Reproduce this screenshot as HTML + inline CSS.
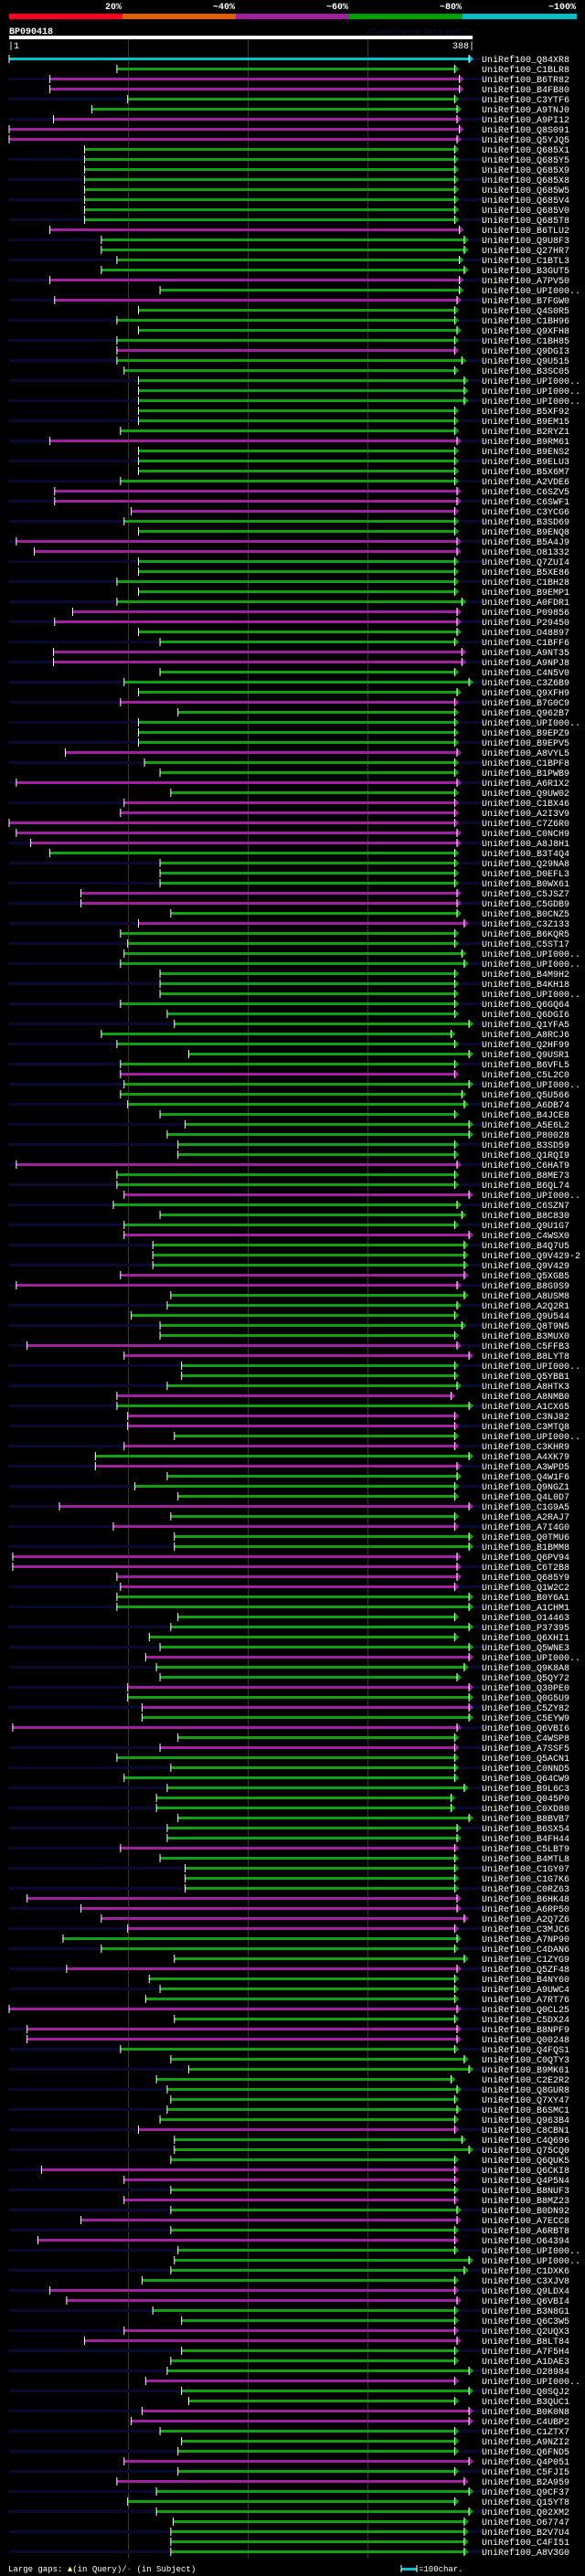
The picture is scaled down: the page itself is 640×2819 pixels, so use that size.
<!DOCTYPE html>
<html><head><meta charset="utf-8">
<style>
html,body{margin:0;padding:0;background:#000;}
svg{display:block;}
text{font-family:"Liberation Mono",monospace;}
</style></head>
<body>
<svg id="chart" width="640" height="2819" viewBox="0 0 640 2819" xmlns="http://www.w3.org/2000/svg">
<rect x="0" y="0" width="640" height="2819" fill="#000"/>
<g font-family="Liberation Mono, monospace" font-weight="bold" font-size="10" fill="#fff" text-anchor="end">
<text x="133" y="10">20%</text>
<text x="257" y="10">~40%</text>
<text x="381" y="10">~60%</text>
<text x="505" y="10">~80%</text>
<text x="630" y="10">~100%</text>
</g>
<rect x="10" y="15" width="124" height="6" fill="#ff0020"/>
<rect x="134" y="15" width="124" height="6" fill="#e06000"/>
<rect x="258" y="15" width="124" height="6" fill="#a020a0"/>
<rect x="382" y="15" width="124" height="6" fill="#00a000"/>
<rect x="506" y="15" width="125" height="6" fill="#00c0c8"/>
<text x="10" y="37" font-size="10" font-weight="bold" fill="#fff">BP090418</text>
<text x="402" y="37" font-size="8" fill="#101040">AlignView.pm Beta rel.7</text>
<rect x="10" y="39" width="507" height="4" fill="#fff"/>
<text x="9" y="53" font-size="10" fill="#fff">|1</text>
<text x="519" y="53" font-size="10" fill="#fff" text-anchor="end">388|</text>
<g id="grid"></g>
<g id="rows"></g>
<text x="9" y="2814" font-size="9" fill="#fff">Large gaps: <tspan fill="#ffff80">▲</tspan>(in Query)/<tspan fill="#00c0c8">-</tspan> (in Subject)</text>
<rect x="439" y="2810" width="17" height="3" fill="#00c0c8"/>
<line x1="439" y1="2807" x2="439" y2="2815" stroke="#fff" stroke-width="1"/>
<line x1="456" y1="2807" x2="456" y2="2815" stroke="#fff" stroke-width="1"/>
<text x="458" y="2814" font-size="9" fill="#fff">=100char.</text>
</svg>
<script>
const queryLength = 388;
const gridTicks = [100, 200, 300];
const hitNames = ["Q84XR8","C1BLR8","B6TR82","B4FB80","C3YTF6","A9TNJ0","A9PI12","Q8S091","Q5YJQ5","Q685X1","Q685Y5","Q685X9","Q685X8","Q685W5","Q685V4","Q685V0","Q685T8","B6TLU2","Q9U8F3","Q27HR7","C1BTL3","B3GUT5","A7PV50","UPI000..","B7FGW0",
"Q4S0R5","C1BH96","Q9XFH8","C1BH85","Q9DGI3","Q9U515","B3SC05","UPI000..","UPI000..","UPI000..","B5XF92","B9EM15","B2RYZ1","B9RM61","B9ENS2","B9ELU3","B5X6M7","A2VDE6","C6SZV5","C6SWF1","C3YCG6","B3SD69","B9ENQ8","B5A4J9","O81332",
"Q7ZUI4","B5XE86","C1BH28","B9EMP1","A0FDR1","P09856","P29450","O48897","C1BFF6","A9NT35","A9NPJ8","C4N5V0","C3Z6B9","Q9XFH9","B7G0C9","Q962B7","UPI000..","B9EPZ9","B9EPV5","A8VYL5","C1BPF8","B1PWB9","A6R1X2","Q9UW02","C1BX46",
"A2I3V9","C7Z6R0","C0NCH9","A8J8H1","B3T4Q4","Q29NA8","D0EFL3","B0WX61","C5JSZ7","C5GDB9","B0CNZ5","C3Z133","B6KQR5","C5ST17","UPI000..","UPI000..","B4M9H2","B4KH18","UPI000..","Q6GQ64","Q6DGI6","Q1YFA5","A8RCJ6","Q2HF99","Q9USR1",
"B6VFL5","C5L2C0","UPI000..","Q5U566","A6DB74","B4JCE8","A5E6L2","P80028","B3SD59","Q1RQI9","C6HAT9","B8ME73","B6QL74","UPI000..","C6SZN7","B8C830","Q9U1G7","C4WSX0","B4Q7U5","Q9V429-2","Q9V429","Q5XGB5","B8G9S9","A8USM8","A2Q2R1",
"Q9U544","Q8T9N5","B3MUX0","C5FFB3","B8LYT8","UPI000..","Q5YBB1","A8HTK3","A8NMB0","A1CX65","C3NJ82","C3MTQ8","UPI000..","C3KHR9","A4XK79","A3WPD5","Q4W1F6","Q9NGZ1","Q4L0D7","C1G9A5","A2RAJ7","A7I4G0","Q0TMU6","B1BMM8","Q6PV94",
"C6T2B8","Q685Y9","Q1W2C2","B0Y6A1","A1CHM1","O14463","P37395","Q6XHI1","Q5WNE3","UPI000..","Q9K8A8","Q5QY72","Q30PE0","Q0G5U9","C5ZY82","C5EYW9","Q6VBI6","C4WSP8","A7SSF5","Q5ACN1","C0NND5","Q64CW9","B9L6C3","Q045P0","C0XD80",
"B8BVB7","B6SX54","B4FH44","C5LBT9","B4MTL8","C1GY07","C1G7K6","C0RZ63","B6HK48","A6RP50","A2Q7Z6","C3MJC6","A7NP90","C4DAN6","C1ZYG9","Q5ZF48","B4NY60","A9UWC4","A7RT76","Q0CL25","C5DX24","B8NPF9","Q00248","Q4FQS1","C0QTY3",
"B9MK61","C2E2R2","Q8GUR8","Q7XY47","B6SMC1","Q963B4","C8CBN1","C4Q696","Q75CQ0","Q6QUK5","Q6CKI8","Q4P5N4","B8NUF3","B8MZ23","B0DN92","A7ECC8","A6RBT8","O64394","UPI000..","UPI000..","C1DXK6","C3XJV8","Q9LDX4","Q6VBI4","B3N8G1",
"Q6C3W5","Q2UQX3","B8LT84","A7F5H4","A1DAE3","O28984","UPI000..","Q0SQJ2","B3QUC1","B0K0N8","C4UBP2","C1ZTX7","A9NZI2","Q6FND5","Q4P051","C5FJI5","B2A959","Q9CF37","Q15YT8","Q02XM2","O67747","B2V7U4","C4FI51","A8V3G0"];
const hitStarts = [1,91,35,35,100,70,38,1,1,64,64,64,64,64,64,64,64,35,78,78,91,78,35,127,39,
109,91,109,91,91,91,97,109,109,109,109,109,94,35,109,109,109,94,39,39,103,97,109,7,22,
109,109,91,109,91,54,39,109,127,38,38,127,97,109,94,142,109,109,109,48,114,127,7,136,97,
94,1,7,19,35,127,127,127,61,61,136,109,94,100,97,94,127,127,127,94,133,139,78,91,151,
94,94,97,94,100,127,148,133,142,142,7,91,91,97,88,127,97,97,121,121,121,94,7,136,133,
103,127,127,16,97,145,145,133,91,91,100,100,139,97,73,73,133,106,142,43,136,88,139,139,4,
4,91,94,91,91,142,136,118,127,115,124,127,100,100,112,112,4,142,127,91,136,97,133,124,124,
142,133,133,94,127,148,148,148,16,61,78,100,46,78,139,49,118,127,115,1,139,16,16,94,136,
151,124,133,136,133,127,109,139,139,136,28,97,136,97,136,61,136,25,142,139,136,112,35,49,121,
145,97,64,145,136,133,115,145,151,112,103,127,145,142,97,142,91,124,100,124,138,136,136,136];
const hitEnds = [385,373,377,377,373,375,375,377,375,373,373,373,373,373,373,373,373,377,381,381,377,381,377,377,375,
373,373,375,373,373,379,373,381,381,381,373,373,373,375,373,373,373,373,375,375,373,373,373,375,375,
373,373,373,373,379,375,375,375,373,379,379,373,385,375,373,373,373,373,373,375,373,373,375,373,373,
373,373,375,375,373,373,373,373,375,375,375,381,373,373,379,381,373,373,373,373,373,385,370,373,385,
373,373,385,379,381,373,385,385,373,373,375,373,373,385,375,379,373,385,381,381,381,381,375,381,375,
373,379,373,375,385,373,373,375,370,385,373,373,373,373,385,375,375,373,373,385,373,373,385,385,375,
375,375,373,385,385,373,385,373,385,385,381,375,385,385,385,385,375,373,373,373,373,373,381,370,370,
385,375,375,373,373,373,373,373,375,375,381,373,375,373,381,375,373,373,373,375,373,375,375,373,381,
385,370,375,373,375,373,373,379,385,373,373,373,373,373,375,375,373,373,373,385,381,373,373,375,373,
373,373,375,373,373,385,373,385,373,385,385,373,373,373,385,373,381,385,373,385,381,381,381,381];
const hitIdentity = ("cgmmggmmmggggggggmggggmgm"+"ggggmggggggggmggggmmmggmm"+"gggggmmggmmgggmggggmggmgm"+"mmmmggggmmgmggggggggggggg"+"gmggggggggmggmgggmgggmmgg"+"gggmmgggmgmmgmgmgggmgmggm"+"mmmggggggmggmgmgmgmgggggg"+"gggmggggmmmmgggmgggmgmmgg"+"ggggggmgggmmgmgmgmggggmmg"+"gmmgggmggmmgggmgmggggggg").split("");

const NS = "http://www.w3.org/2000/svg";
const X0 = 10, X1 = 517;
function xScale(r){ return X0 + (r - 1) * (X1 - X0) / (queryLength - 1); }
function yRow(i){ return 64 + i * 11; }
const colorMap = {c:"#00c0c8", g:"#10a010", m:"#a020a0"};

const grid = document.getElementById("grid");
gridTicks.forEach(function(t){
  const l = document.createElementNS(NS, "line");
  
  
  const x = Math.round(xScale(t)) + 0.5;
  l.setAttribute("x1", x); l.setAttribute("x2", x);
  l.setAttribute("y1", 43); l.setAttribute("y2", 2800);
  l.setAttribute("stroke", "#3a3a14"); l.setAttribute("stroke-width", "1");
  grid.appendChild(l);
});

const rows = document.getElementById("rows");
hitNames.forEach(function(name, i){
  const y = yRow(i);
  const g = document.createElementNS(NS, "g");
  
  
  if (i % 2 === 0) {
    const s = document.createElementNS(NS, "rect");
    
    
    s.setAttribute("x", 10); s.setAttribute("y", y - 1);
    s.setAttribute("width", 517); s.setAttribute("height", 3);
    s.setAttribute("fill", "#0a0a30");
    g.appendChild(s);
  }
  const col = colorMap[hitIdentity[i]] || "#10a010";
  const xs = xScale(hitStarts[i]), xe = xScale(hitEnds[i]);
  const b = document.createElementNS(NS, "rect");
  
  
  b.setAttribute("x", xs); b.setAttribute("y", y - 1);
  b.setAttribute("width", Math.max(0, xe - xs)); b.setAttribute("height", 3);
  b.setAttribute("fill", col);
  g.appendChild(b);
  const a = document.createElementNS(NS, "polygon");
  
  
  a.setAttribute("points", xe + "," + (y - 4) + " " + (xe + 5) + "," + (y + 0.5) + " " + xe + "," + (y + 5));
  a.setAttribute("fill", col);
  g.appendChild(a);
  const t1 = document.createElementNS(NS, "rect");
  
  
  t1.setAttribute("x", xs - 0.5); t1.setAttribute("y", y - 4);
  t1.setAttribute("width", 1); t1.setAttribute("height", 9);
  t1.setAttribute("fill", "#fff");
  g.appendChild(t1);
  const t2 = document.createElementNS(NS, "rect");
  
  
  t2.setAttribute("x", xe - 0.5); t2.setAttribute("y", y - 4);
  t2.setAttribute("width", 1); t2.setAttribute("height", 9);
  t2.setAttribute("fill", "#fff");
  g.appendChild(t2);
  const tx = document.createElementNS(NS, "text");
  
  
  tx.setAttribute("x", 527); tx.setAttribute("y", y + 4);
  tx.setAttribute("font-size", "10"); tx.setAttribute("fill", "#fff");
  tx.textContent = "UniRef100_" + name;
  g.appendChild(tx);
  rows.appendChild(g);
});
</script>
</body></html>
